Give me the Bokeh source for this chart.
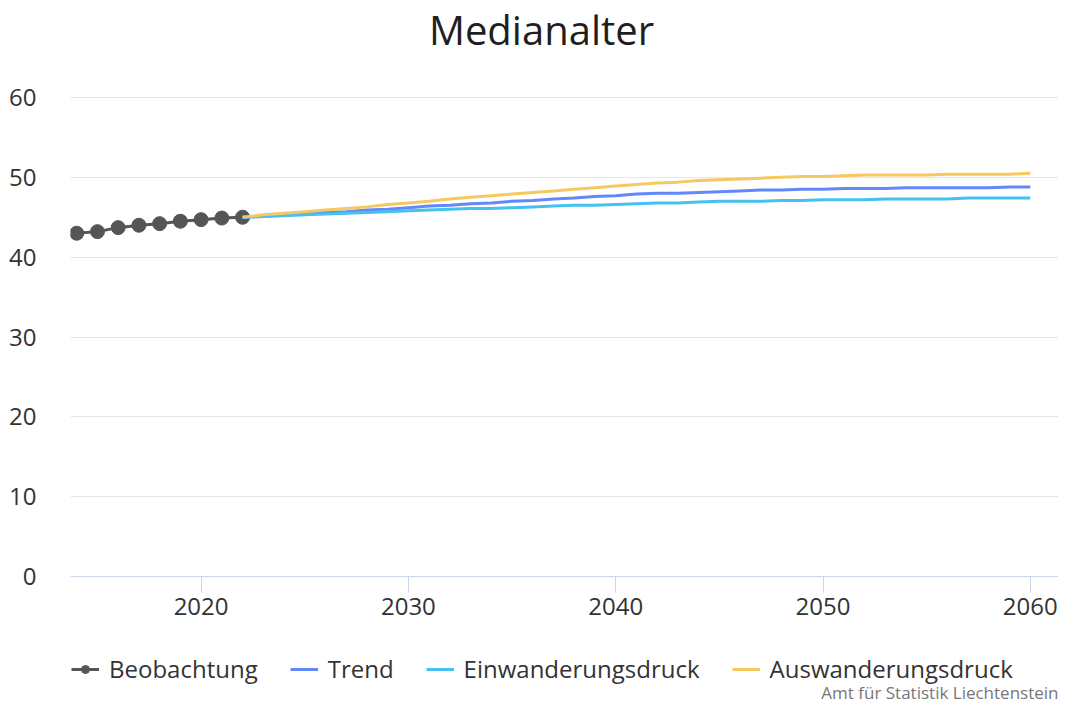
from bokeh.plotting import figure
from bokeh.models import (Range1d, FixedTicker, Legend, LegendItem, Label, ColumnDataSource)
from bokeh.embed import file_html
from bokeh.resources import INLINE

# ---- data ----
obs_years = [2014, 2015, 2016, 2017, 2018, 2019, 2020, 2021, 2022]
obs_values = [43.0, 43.2, 43.7, 44.0, 44.2, 44.5, 44.7, 44.9, 45.0]

proj_years = list(range(2022, 2061))
trend = [45.0, 45.1, 45.3, 45.4, 45.6, 45.7, 45.9, 46.0, 46.2, 46.4,
         46.5, 46.7, 46.8, 47.0, 47.1, 47.3, 47.4, 47.6, 47.7, 47.9,
         48.0, 48.0, 48.1, 48.2, 48.3, 48.4, 48.4, 48.5, 48.5, 48.6,
         48.6, 48.6, 48.7, 48.7, 48.7, 48.7, 48.7, 48.8, 48.8]
einwanderung = [45.0, 45.1, 45.2, 45.3, 45.4, 45.5, 45.6, 45.7, 45.8, 45.9,
                46.0, 46.1, 46.1, 46.2, 46.3, 46.4, 46.5, 46.5, 46.6, 46.7,
                46.8, 46.8, 46.9, 47.0, 47.0, 47.0, 47.1, 47.1, 47.2, 47.2,
                47.2, 47.3, 47.3, 47.3, 47.3, 47.4, 47.4, 47.4, 47.4]
auswanderung = [45.0, 45.3, 45.5, 45.7, 45.9, 46.1, 46.3, 46.6, 46.8, 47.0,
                47.3, 47.5, 47.7, 47.9, 48.1, 48.3, 48.5, 48.7, 48.9, 49.1,
                49.3, 49.4, 49.6, 49.7, 49.8, 49.9, 50.0, 50.1, 50.1, 50.2,
                50.3, 50.3, 50.3, 50.3, 50.4, 50.4, 50.4, 50.4, 50.5]

x_ticks = [2020, 2030, 2040, 2050, 2060]
y_ticks = [0, 10, 20, 30, 40, 50, 60]

FONT = "Open Sans"
C_OBS = "#555555"
C_TREND = "#6388fb"
C_EIN = "#45c1f1"
C_AUS = "#f5c960"

# ---- layout geometry ----
W, H = 1058, 704
LEFT = 70
X0, X1 = 2013.7, 2061.36
Y0, Y1 = -16.03, 72.15

p = figure(width=W, height=H, output_backend="svg", toolbar_location=None,
           x_range=Range1d(X0, X1), y_range=Range1d(Y0, Y1),
           min_border_left=LEFT, min_border_right=0, min_border_top=0,
           min_border_bottom=0, outline_line_color=None,
           background_fill_color="white", border_fill_color="white")

# axes
p.xaxis.fixed_location = 0
p.xaxis.ticker = FixedTicker(ticks=x_ticks)
p.yaxis.ticker = FixedTicker(ticks=y_ticks)
p.xaxis.axis_line_color = "#ccd6eb"
p.xaxis.major_tick_line_color = "#ccd6eb"
p.xaxis.major_tick_out = 16
p.xaxis.major_tick_in = 0
p.xaxis.minor_tick_line_color = None
p.xaxis.major_label_standoff = 5
p.yaxis.axis_line_color = None
p.yaxis.major_tick_line_color = None
p.yaxis.minor_tick_line_color = None
p.yaxis.major_label_standoff = 28
for ax in (p.xaxis, p.yaxis):
    ax.major_label_text_font = FONT
    ax.major_label_text_font_size = "24px"
    ax.major_label_text_color = "#333333"
p.xgrid.grid_line_color = None
p.ygrid.grid_line_color = "#e6e6e6"
p.ygrid.grid_line_width = 1

# series
obs_src = ColumnDataSource(dict(x=obs_years, y=obs_values))
obs_line = p.line("x", "y", source=obs_src, line_color=C_OBS, line_width=3)
obs_pts = p.scatter("x", "y", source=obs_src, size=14, marker="circle",
                    fill_color=C_OBS, line_color=C_OBS)
r_trend = p.line(proj_years, trend, line_color=C_TREND, line_width=3)
r_ein = p.line(proj_years, einwanderung, line_color=C_EIN, line_width=3)
r_aus = p.line(proj_years, auswanderung, line_color=C_AUS, line_width=3)

legend = Legend(items=[
    LegendItem(label="Beobachtung", renderers=[obs_line, obs_pts]),
    LegendItem(label="Trend", renderers=[r_trend]),
    LegendItem(label="Einwanderungsdruck", renderers=[r_ein]),
    LegendItem(label="Auswanderungsdruck", renderers=[r_aus]),
], orientation="horizontal", location=(1, 19),
    border_line_color=None, background_fill_alpha=0,
    label_text_font=FONT, label_text_font_size="24px", label_text_color="#333333",
    glyph_width=28, glyph_height=20, label_standoff=10, spacing=32,
    padding=0, margin=0)
p.add_layout(legend, "center")

title = Label(x=2036.42, y=68.52, text="Medianalter", text_align="center",
              text_baseline="alphabetic", text_font=FONT, text_font_size="40px",
              text_color="#1f1f1f")
p.add_layout(title)

credit = Label(x=X1, y=-14.51, text="Amt für Statistik Liechtenstein",
               text_align="right", text_baseline="alphabetic", text_font=FONT,
               text_font_size="17px", text_color="#777777")
p.add_layout(credit)

open("out.html", "w").write(file_html(p, INLINE))
